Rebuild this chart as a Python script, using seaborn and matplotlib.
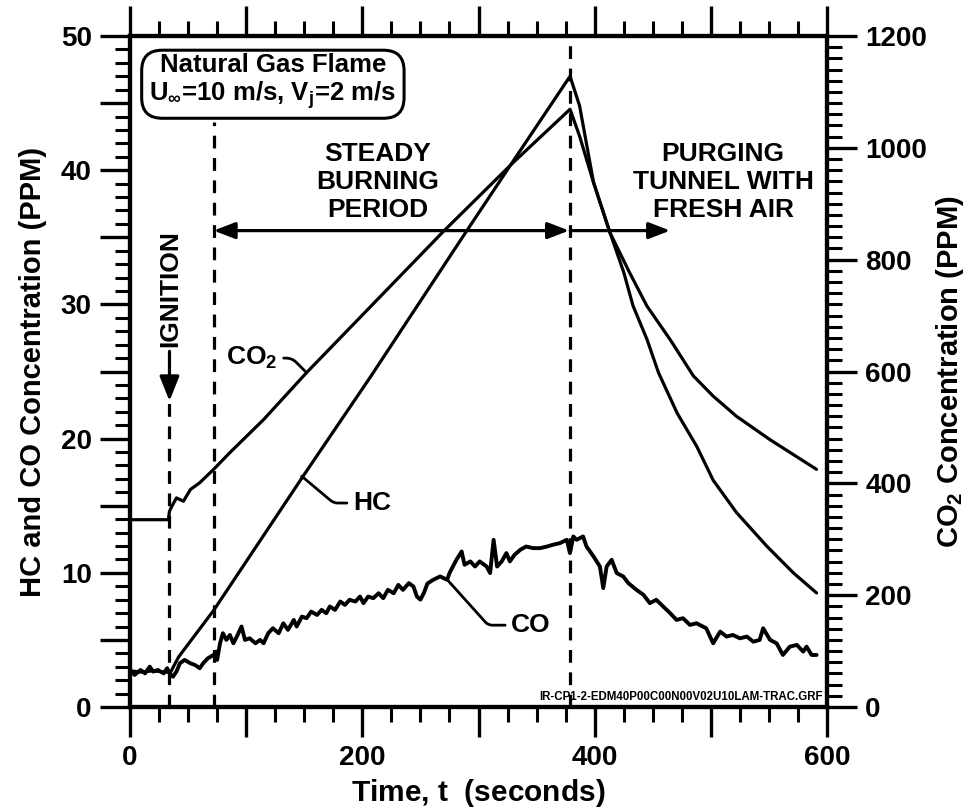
import matplotlib
matplotlib.use("Agg")
import matplotlib.pyplot as plt
import seaborn as sns
from matplotlib.ticker import MultipleLocator, FuncFormatter

# ---------------- data ----------------
hc_time = [0, 10, 20, 30, 35, 38, 42, 72, 149, 207, 290, 330, 378.8, 387, 399, 413,
           425, 433, 445, 455, 471, 488, 502, 522, 548, 571, 591]
hc_ppm = [2.7, 2.6, 2.7, 2.6, 2.6, 3.1, 3.75, 7.2, 17.2, 24.6, 35.5, 40.7, 47.0, 44.8, 39.1, 35.4,
          32.4, 29.9, 27.4, 24.9, 21.9, 19.4, 16.9, 14.5, 12.0, 10.0, 8.5]

co_time = [0, 4, 9, 13, 17, 20, 24, 29, 32, 34, 37, 40, 43, 47, 52, 56, 60, 63, 67, 72, 74, 75,
           77.5, 80, 83, 86, 89, 92, 96, 99, 103, 108, 112, 115, 119, 123, 128, 132, 136, 141,
           143.5, 148, 152, 156, 161, 165, 169, 172, 176.5, 181, 185, 189, 194, 198, 201, 205,
           209.5, 214, 218, 222, 227, 231, 235, 240, 244, 247, 250, 253, 256, 261, 267, 273, 275,
           278, 281, 285.5, 288, 293, 297, 301, 307, 310, 313, 316, 320, 324, 327, 331, 336, 341,
           347, 353, 359, 364, 370, 376, 378.7, 381.6, 384.5, 390, 393, 399, 404.5, 407.4, 410.3,
           414.6, 419, 424.6, 429, 436, 442, 447.5, 453, 459, 465, 470.5, 476, 482, 487.7, 496,
           502, 508, 513.5, 519, 525, 531, 536.5, 542, 545, 551, 556.6, 562, 568, 574, 579.5,
           582.4, 586.7, 591]
co_ppm = [2.76, 2.39, 2.76, 2.51, 3.01, 2.64, 2.76, 2.51, 2.89, 2.51, 2.26, 2.64, 3.26, 3.51, 3.26,
          3.13, 2.89, 3.26, 3.63, 3.88, 4.13, 3.51, 4.75, 5.50, 5.00, 5.37, 4.75, 5.25, 6.0, 5.0,
          5.12, 4.75, 5.0, 4.75, 5.5, 5.87, 5.5, 6.24, 5.75, 6.49, 6.0, 6.74, 6.62, 7.11, 6.86,
          7.24, 6.99, 7.49, 7.24, 7.86, 7.61, 7.99, 7.86, 8.23, 7.74, 8.23, 8.11, 8.48, 8.11, 8.73,
          8.48, 9.10, 8.73, 9.23, 8.98, 8.23, 8.0, 8.5, 9.2, 9.48, 9.73, 9.48, 9.98, 10.47, 10.97,
          11.59, 10.6, 10.85, 10.47, 10.85, 10.47, 9.98, 12.46, 10.47, 10.85, 11.47, 10.85, 11.34,
          11.72, 11.96, 11.84, 11.84, 11.96, 12.09, 12.21, 12.46, 11.47, 12.71, 12.46, 12.71,
          11.96, 11.22, 10.47, 8.86, 10.47, 10.97, 9.98, 9.73, 9.23, 8.73, 8.36, 7.74, 7.99, 7.49,
          6.99, 6.49, 6.62, 6.12, 6.24, 5.87, 4.75, 5.62, 5.25, 5.37, 5.12, 5.25, 4.87, 5.0, 5.87,
          5.0, 4.75, 3.88, 4.5, 4.63, 4.13, 4.5, 3.88, 3.88]

co2_time = [0, 33, 34, 36, 40, 46, 52, 60, 72, 86, 115, 152, 270, 330, 378.8, 387, 399, 413,
            430, 445, 465, 485, 502, 522, 551, 591]
co2_ppm = [335, 335, 350, 359, 374, 368, 389, 401, 425, 455, 514, 598, 851, 974, 1069, 1021, 938,
           849, 777, 717, 657, 592, 556, 520, 478, 425]

x_major = 100
x_label_every = 200
left_major, left_label_every, left_minor = 5, 10, 1
right_major, right_minor = 200, 20

ignition_t = 34
steady_start_t = 72
purge_start_t = 379
purge_arrow_end_t = 465

# ---------------- style ----------------
sns.set_style("white")
plt.rcParams.update({
    'font.family': ['Liberation Sans', 'DejaVu Sans'],
    'font.weight': 'bold',
    'axes.labelweight': 'bold',
    'mathtext.fontset': 'custom',
    'mathtext.rm': 'Liberation Sans:bold',
    'mathtext.it': 'Liberation Sans:italic:bold',
    'mathtext.bf': 'Liberation Sans:bold',
    'mathtext.default': 'rm',
    'axes.edgecolor': 'black',
    'xtick.color': 'black',
    'ytick.color': 'black',
    'text.color': 'black',
    'axes.labelcolor': 'black',
})

fig = plt.figure(figsize=(9.7, 8.11), dpi=100)
ax = fig.add_axes([0.134, 0.1282, 0.7186, 0.8274])
ax2 = ax.twinx()

lw = 2.3
sns.lineplot(x=hc_time, y=hc_ppm, ax=ax, color='black', lw=lw, estimator=None, sort=False)
sns.lineplot(x=co_time, y=co_ppm, ax=ax, color='black', lw=2.8, estimator=None, sort=False)
sns.lineplot(x=co2_time, y=co2_ppm, ax=ax2, color='black', lw=lw, estimator=None, sort=False)

ax.set_xlim(0, 600)
ax.set_ylim(0, 50)
ax2.set_ylim(0, 1200)

ax.xaxis.set_major_locator(MultipleLocator(x_major))
ax.xaxis.set_minor_locator(MultipleLocator(x_major / 4))
ax.xaxis.set_major_formatter(FuncFormatter(
    lambda v, p: f"{int(round(v))}" if int(round(v)) % x_label_every == 0 else ""))
ax.yaxis.set_major_locator(MultipleLocator(left_major))
ax.yaxis.set_minor_locator(MultipleLocator(left_minor))
ax.yaxis.set_major_formatter(FuncFormatter(
    lambda v, p: f"{int(round(v))}" if int(round(v)) % left_label_every == 0 else ""))
ax2.yaxis.set_major_locator(MultipleLocator(right_major))
ax2.yaxis.set_minor_locator(MultipleLocator(right_minor))

for a in (ax, ax2):
    for s in a.spines.values():
        s.set_linewidth(3)
        s.set_color('black')

ax.tick_params(axis='both', which='major', direction='out', length=21.6, width=2.4,
               labelsize=20, pad=6)
ax.tick_params(axis='both', which='minor', direction='out', length=10.8, width=2.2)
ax.tick_params(axis='x', which='both', top=True, bottom=True, labeltop=False)
ax.tick_params(axis='y', which='both', left=True, right=False)
ax2.tick_params(axis='y', which='major', direction='out', length=21.6, width=2.4,
                labelsize=20, pad=6, right=True, left=False)
ax2.tick_params(axis='y', which='minor', direction='out', length=10.8, width=2.2,
                right=True, left=False)

ax.set_xlabel("Time, $t$  (seconds)", fontsize=21.5, labelpad=4)
ax.set_ylabel("HC and CO Concentration (PPM)", fontsize=21, labelpad=10)
ax2.set_ylabel("CO$_2$ Concentration (PPM)", fontsize=21, labelpad=5)

# ---------------- annotations ----------------
dash = (0, (4, 3))
ax.plot([ignition_t, ignition_t], [0, 22.9], color='black', lw=lw, ls=dash)
ax.plot([steady_start_t, steady_start_t], [0, 43.6], color='black', lw=lw, ls=dash)
ax.plot([purge_start_t, purge_start_t], [0, 50], color='black', lw=lw, ls=dash, clip_on=False)

ax.annotate('', xy=(ignition_t, 22.8), xytext=(ignition_t, 26.5),
            arrowprops=dict(arrowstyle='-|>,head_length=0.75,head_width=0.3', lw=lw,
                            color='black', shrinkA=0, shrinkB=0, mutation_scale=20))
ax.text(ignition_t + 0.5, 31.2, "IGNITION", rotation=90, ha='center', va='center', fontsize=19)

arrow_y = 35.5
ax.annotate('', xy=(steady_start_t, arrow_y), xytext=(purge_start_t - 1, arrow_y),
            arrowprops=dict(arrowstyle='<|-|>,head_length=0.65,head_width=0.25', lw=lw,
                            color='black', shrinkA=0, shrinkB=0, mutation_scale=20))
ax.annotate('', xy=(purge_arrow_end_t, arrow_y), xytext=(purge_start_t, arrow_y),
            arrowprops=dict(arrowstyle='-|>,head_length=0.65,head_width=0.25', lw=lw,
                            color='black', shrinkA=0, shrinkB=0, mutation_scale=20))

ax.text(213.5, 39.1, "STEADY\nBURNING\nPERIOD", ha='center', va='center', fontsize=19,
        linespacing=1.2)
ax.text(510.5, 39.1, "PURGING\nTUNNEL WITH\nFRESH AIR", ha='center', va='center',
        fontsize=19, linespacing=1.2)

ax.text(123, 46.6, "Natural Gas Flame\nU$_{\\infty}$=10 m/s, V$_{j}$=2 m/s", ha='center',
        va='center', fontsize=18.5, linespacing=1.1,
        bbox=dict(boxstyle='round,pad=0.3,rounding_size=0.8', fc='white', ec='black', lw=2.2),
        zorder=5)

ax.annotate("CO$_2$", xy=(152, 598 / 24), xytext=(105, 26.0), ha='center', va='center',
            fontsize=19,
            arrowprops=dict(arrowstyle='-', lw=2, color='black', shrinkA=2, shrinkB=0,
                            connectionstyle='angle,angleA=0,angleB=-45,rad=6'))
ax.annotate("HC", xy=(147.8, 17.2), xytext=(208.3, 15.2), ha='center', va='center',
            fontsize=19,
            arrowprops=dict(arrowstyle='-', lw=2, color='black', shrinkA=2, shrinkB=0,
                            connectionstyle='angle,angleA=0,angleB=-40,rad=4'))
ax.annotate("CO", xy=(274, 9.4), xytext=(345.2, 6.1), ha='center', va='center',
            fontsize=19,
            arrowprops=dict(arrowstyle='-', lw=2, color='black', shrinkA=2, shrinkB=0,
                            connectionstyle='angle,angleA=0,angleB=-48,rad=4'))

ax.text(596.5, 0.75, "IR-CP1-2-EDM40P00C00N00V02U10LAM-TRAC.GRF", ha='right', va='center',
        fontsize=8.3, fontweight='bold')

fig.savefig("out.png", dpi=100)
